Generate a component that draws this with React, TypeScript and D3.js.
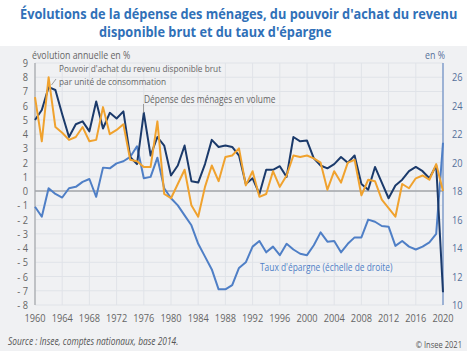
import React from "react";
import * as d3 from "d3";

const years = d3.range(1960, 2021);
const depense = [5.0, 5.7, 7.3, 7.1, 5.4, 3.8, 4.7, 4.9, 4.2, 6.3, 4.4, 5.5, 5.1, 5.6, 2.4, 1.9, 5.5, 2.5, 3.8, 3.2, 1.1, 1.8, 3.2, 0.7, 0.6, 1.9, 3.6, 3.1, 3.2, 3.1, 2.5, 0.5, 0.9, -0.2, 1.5, 1.5, 1.75, 1.0, 3.8, 3.5, 3.55, 2.3, 1.8, 1.6, 1.9, 2.4, 2.0, 2.5, 0.5, 0.1, 1.7, 0.6, -0.5, 0.4, 0.8, 1.4, 1.7, 1.4, 0.9, 1.8, -7.1];
const pouvoir = [6.6, 3.5, 8.0, 4.5, 4.1, 3.6, 3.8, 4.5, 3.5, 3.6, 5.9, 4.0, 4.3, 4.7, 2.2, 2.1, 1.7, 1.7, 4.9, -0.2, -0.5, 0.5, 1.5, -1.0, -1.8, 0.3, 1.8, 0.7, 2.4, 2.5, 3.0, 0.4, 1.4, -0.4, -0.2, 1.4, 0.3, 1.1, 2.5, 2.4, 2.5, 2.3, 2.0, 0.1, 1.4, 0.6, 2.0, 2.2, -0.3, 0.8, 0.7, -0.6, -1.2, -1.8, 0.5, 0.2, 0.9, 1.1, 0.8, 1.9, 0.0];
const epargne = [16.9, 16.2, 18.2, 17.8, 17.55, 18.2, 18.3, 18.65, 18.85, 17.6, 19.65, 19.6, 19.95, 20.1, 20.4, 21.15, 18.9, 19.0, 20.35, 18.2, 17.5, 17.0, 16.3, 15.6, 14.3, 13.4, 12.5, 11.1, 11.1, 11.4, 12.6, 13.0, 14.1, 14.5, 13.7, 14.1, 13.5, 14.3, 13.9, 13.6, 13.5, 14.2, 15.1, 14.45, 14.5, 13.7, 14.3, 14.75, 14.75, 16.0, 15.85, 15.55, 15.5, 14.15, 14.5, 14.1, 13.9, 14.1, 14.4, 15.0, 21.4];
const leftTicks = d3.range(-8, 10);
const rightTicks = d3.range(10, 27, 2);
const xTicks = d3.range(1960, 2021, 4);

const W = 467, H = 351;
const FONT = "'Open Sans', 'Noto Sans', sans-serif";

function T(props: {
  x: number; y: number; size: number; fill: string; anchor?: string; sx?: number;
  italic?: boolean; bold?: boolean; children: React.ReactNode;
}) {
  const { x, y, size, fill, anchor, italic, bold, children } = props;
  const sx = props.sx ?? 0.84;
  return (
    <text
      transform={`translate(${x},${y}) scale(${sx},1)`}
      fontSize={size}
      fill={fill}
      textAnchor={anchor || "start"}
      fontStyle={italic ? "italic" : "normal"}
      fontWeight={bold ? "bold" : "normal"}
    >
      {children}
    </text>
  );
}

export default function App() {
  const x = d3.scaleLinear().domain([1960, 2020]).range([35, 443]);
  const yL = d3.scaleLinear().domain([-8, 9]).range([305, 63]);
  const yR = d3.scaleLinear().domain([10, 27]).range([305, 63]);
  const lineL = d3.line<number>().x((_, i) => x(years[i])).y((d) => yL(d));
  const lineR = d3.line<number>().x((_, i) => x(years[i])).y((d) => yR(d));
  const fmt = (v: number) => (v < 0 ? "- " + Math.abs(v) : String(v));

  return (
    <svg width={W} height={H} style={{ position: "absolute", left: 0, top: 0, fontFamily: FONT }}>
      <rect x={0} y={0} width={W} height={H} fill="#ffffff" />
      <rect x={0} y={46} width={W} height={H - 46} fill="#f0f1f3" />
      <T x={20} y={19} size={13.5} bold fill="#3070b8" sx={0.945}>
        Évolutions de la dépense des ménages, du pouvoir d'achat du revenu
      </T>
      <T x={99} y={36.5} size={13.5} bold fill="#3070b8" sx={0.945}>
        disponible brut et du taux d'épargne
      </T>

      {/* grid */}
      {leftTicks.map((t) => (
        <line key={"h" + t} x1={x(1960)} x2={x(2020)} y1={yL(t)} y2={yL(t)} stroke="#e0e3e8" strokeWidth={1} />
      ))}
      {xTicks.map((yr) => (
        <line key={"v" + yr} x1={x(yr)} x2={x(yr)} y1={yL(9)} y2={yL(-8)} stroke="#e0e3e8" strokeWidth={1} />
      ))}
      <line x1={x(1960)} x2={x(2020)} y1={yL(0)} y2={yL(0)} stroke="#a3a6aa" strokeWidth={1.5} />
      <line x1={x(1960)} x2={x(1960)} y1={yL(9)} y2={yL(-8)} stroke="#a3a6aa" strokeWidth={1.2} />
      <line x1={x(2020)} x2={x(2020)} y1={yL(9)} y2={yL(-8)} stroke="#6a8cc4" strokeWidth={1.2} />

      {/* axis labels */}
      {leftTicks.map((t) => (
        <T key={"l" + t} x={28} y={yL(t) + 4} size={11} fill="#666" anchor="end">
          {fmt(t)}
        </T>
      ))}
      {rightTicks.map((t) => (
        <T key={"r" + t} x={452} y={yR(t) + 4} size={11} fill="#56709a">
          {t}
        </T>
      ))}
      {xTicks.map((t) => (
        <T key={"x" + t} x={x(t)} y={322} size={11} fill="#666" anchor="middle">
          {t}
        </T>
      ))}
      <T x={32} y={58.5} size={10.5} fill="#666">évolution annuelle en %</T>
      <T x={445} y={58.5} size={10.5} fill="#56709a" anchor="end">en %</T>

      {/* series */}
      <path d={lineR(epargne) || ""} fill="none" stroke="#4f7fc6" strokeWidth={2} strokeLinejoin="round" />
      <path d={lineL(depense) || ""} fill="none" stroke="#1b3a6b" strokeWidth={2} strokeLinejoin="round" />
      <path d={lineL(pouvoir) || ""} fill="none" stroke="#f0a22e" strokeWidth={2} strokeLinejoin="round" />

      {/* annotations */}
      <line x1={51.5} y1={85} x2={56} y2={79} stroke="#888" strokeWidth={0.8} />
      <T x={59} y={72} size={9.2} sx={0.9} fill="#666">Pouvoir d'achat du revenu disponible brut</T>
      <T x={59} y={84.5} size={9.2} sx={0.9} fill="#666">par unité de consommation</T>
      <line x1={143.5} y1={104} x2={143.5} y2={113} stroke="#888" strokeWidth={0.8} />
      <T x={144} y={103} size={10} fill="#666">Dépense des ménages en volume</T>
      <T x={260} y={271} size={10} fill="#4f7fc6">Taux d'épargne (échelle de droite)</T>

      <T x={8} y={345} size={10} italic fill="#555">
        Source : Insee, comptes nationaux, base 2014.
      </T>
      <T x={462} y={348} size={9} fill="#555" anchor="end">© Insee 2021</T>
    </svg>
  );
}
